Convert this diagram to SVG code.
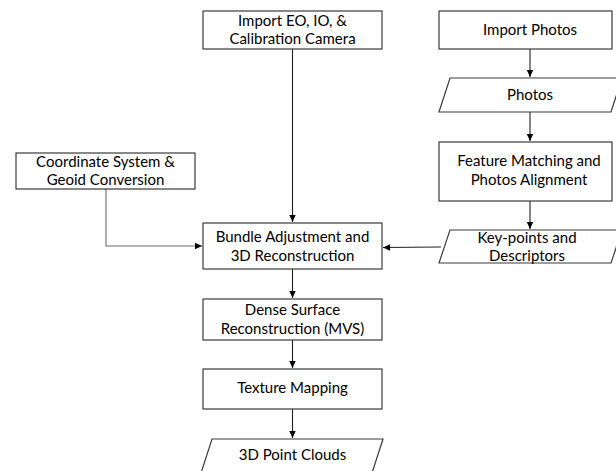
<svg xmlns="http://www.w3.org/2000/svg" width="616" height="471" viewBox="0 0 616 471">
<defs>
<marker id="ah" markerWidth="8" markerHeight="8" refX="7" refY="4" orient="auto" markerUnits="userSpaceOnUse">
<path d="M0,0.8 L7,4 L0,7.2 Z" fill="#000"/>
</marker>
<style>
.n{fill:#fff;stroke:#3a3a3a;stroke-width:1.2}
.t{font-family:Lato,"Open Sans",sans-serif;font-size:15px;fill:#000;text-anchor:middle}
.c{fill:none;stroke:#222;stroke-width:1.1;marker-end:url(#ah)}
.cg{fill:none;stroke:#6a6a6a;stroke-width:1.1;marker-end:url(#ah)}
</style>
</defs>
<rect width="616" height="471" fill="#fff"/>
<g id="connectors">
<path class="c" d="M292.5,49 V222"/>
<path class="c" d="M530,49 V77"/>
<path class="c" d="M530,112 V141"/>
<path class="c" d="M530,201 V229"/>
<path class="c" d="M441,247 L383,247.5"/>
<path class="cg" d="M106,189 V246 H202"/>
<path class="c" d="M292.5,269 V298"/>
<path class="c" d="M292.5,340 V368"/>
<path class="c" d="M292.5,409 V438"/>
</g>
<g id="import-eo">
<rect class="n" x="203" y="11" width="179" height="38"/>
<text class="t" x="292.5" y="26">Import EO, IO, &amp;</text>
<text class="t" x="292.5" y="44">Calibration Camera</text>
</g>
<g id="import-photos">
<rect class="n" x="439" y="11" width="173" height="38"/>
<text class="t" x="530" y="35">Import Photos</text>
</g>
<g id="photos">
<polygon class="n" points="450,78 622,78 611,112 439,112"/>
<text class="t" x="530" y="100">Photos</text>
</g>
<g id="feature-matching">
<rect class="n" x="439" y="142" width="173" height="59"/>
<text class="t" x="529" y="166">Feature Matching and</text>
<text class="t" x="529" y="185">Photos Alignment</text>
</g>
<g id="keypoints">
<polygon class="n" points="450,230 622,230 611,263 439,263"/>
<text class="t" x="527" y="243">Key-points and</text>
<text class="t" x="527" y="261">Descriptors</text>
</g>
<g id="coordinate-system">
<rect class="n" x="16" y="153" width="179" height="36"/>
<text class="t" x="105.5" y="167">Coordinate System &amp;</text>
<text class="t" x="105.5" y="185">Geoid Conversion</text>
</g>
<g id="bundle-adjustment">
<rect class="n" x="203" y="223" width="179" height="46"/>
<text class="t" x="292.5" y="242">Bundle Adjustment and</text>
<text class="t" x="292.5" y="261">3D Reconstruction</text>
</g>
<g id="dense-surface">
<rect class="n" x="203" y="299" width="179" height="41"/>
<text class="t" x="292.5" y="315">Dense Surface</text>
<text class="t" x="292.5" y="334">Reconstruction (MVS)</text>
</g>
<g id="texture-mapping">
<rect class="n" x="203" y="369" width="179" height="40"/>
<text class="t" x="292.5" y="393">Texture Mapping</text>
</g>
<g id="point-clouds">
<polygon class="n" points="212,439 383,439 372,473 201,473"/>
<text class="t" x="292.5" y="460">3D Point Clouds</text>
</g>
</svg>
